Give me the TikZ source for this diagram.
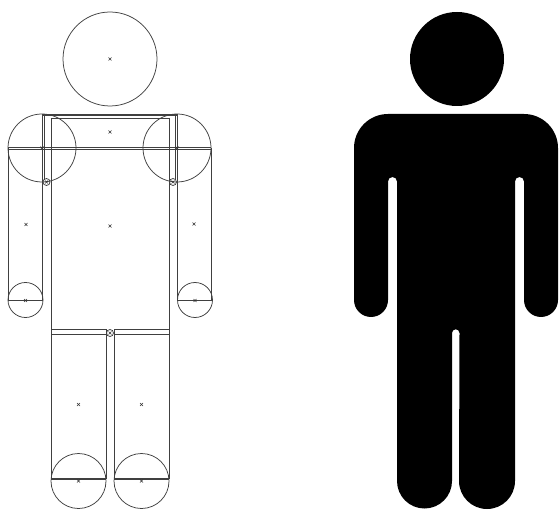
\documentclass[tikz,border=0pt]{standalone}
\begin{document}
\begin{tikzpicture}[x=1pt,y=-1pt,
  ln/.style={draw=black!75,line width=0.75pt},
  xm/.pic={\draw[black!80,line width=0.6pt] (-1.5,-1.5)--(1.5,1.5) (-1.5,1.5)--(1.5,-1.5);}]
\useasboundingbox (0,0) rectangle (559,510);
% left figure: construction lines
\begin{scope}[ln]
\draw (110,59) circle[radius=47];
\draw (42,148) circle[radius=34];
\draw (177,148) circle[radius=34];
\draw (25.5,300) circle[radius=17.5];
\draw (195,300) circle[radius=17.5];
\draw (78.5,481) circle[radius=27.5];
\draw (141.5,481) circle[radius=27.5];
\draw (46.5,182) circle[radius=3.5];
\draw (173,182) circle[radius=3.5];
\draw (110,333) circle[radius=3.5];
\draw (42,114) -- (177,114);
\draw (42,115.5) -- (177,115.5);
\draw (51,118.5) -- (169,118.5);
\draw (8,147.2) -- (211,147.2);
\draw (8,149) -- (211,149);
\draw (8,148) -- (8,300);
\draw (42.5,114) -- (42.5,300);
\draw (44.5,114) -- (44.5,180);
\draw (51,118) -- (51,479);
\draw (169,118) -- (169,479);
\draw (175,114) -- (175,180);
\draw (177.5,114) -- (177.5,300);
\draw (211.5,148) -- (211.5,300);
\draw (8,300) -- (42.5,300);
\draw (177.5,300) -- (212,300);
\draw (51,329) -- (106,329);
\draw (114,329) -- (169,329);
\draw (51,334) -- (106,334);
\draw (114,334) -- (169,334);
\draw (106,329) -- (106,479);
\draw (114,329) -- (114,479);
\draw (51,478) -- (106,478);
\draw (51,479.5) -- (106,479.5);
\draw (114,478) -- (169,478);
\draw (114,479.5) -- (169,479.5);
\end{scope}
\foreach \p in {(110,59),(110,132),(110,226),(26,224.5),(194,224),(25.5,300.5),(195,300.5),(46.5,182),(173,182),(42,148),(177,148),(110,333),(78.5,404.5),(141.5,404.5),(78.5,481),(141.5,481)}
  \pic at \p {xm};
% right figure: silhouette
\fill[black] (457,59) circle[radius=47];
\fill[black] (388,114) -- (524,114) arc[start angle=-90,end angle=0,radius=34]
  -- (558,300) arc[start angle=0,end angle=180,radius=17]
  -- (524,181.5) arc[start angle=0,end angle=-180,radius=4.5]
  -- (515,481) arc[start angle=0,end angle=180,radius=28]
  -- (459.5,333) arc[start angle=0,end angle=-180,radius=3.75]
  -- (452,481) arc[start angle=0,end angle=180,radius=27.5]
  -- (397,181.5) arc[start angle=0,end angle=-180,radius=4.5]
  -- (388,300) arc[start angle=0,end angle=180,radius=17]
  -- (354,148) arc[start angle=180,end angle=270,radius=34] -- cycle;
\end{tikzpicture}
\end{document}
